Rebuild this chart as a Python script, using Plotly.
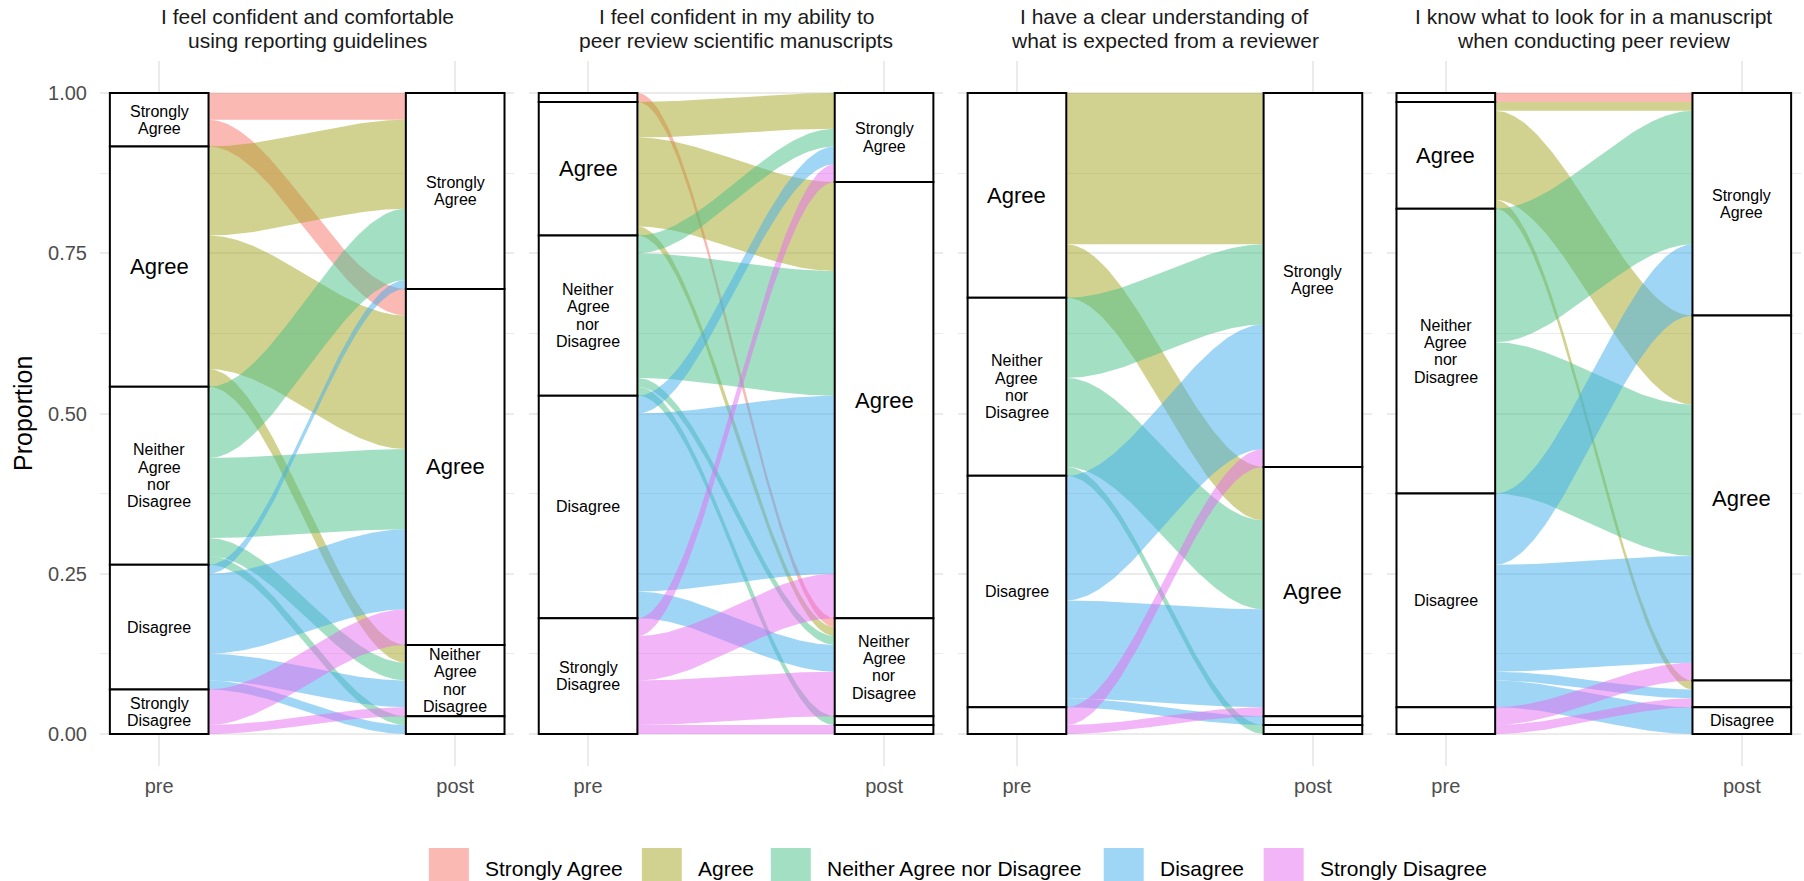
import numpy as np
import plotly.graph_objects as go
from plotly.subplots import make_subplots

# ---------------- data ----------------
categories = ["Strongly Agree", "Agree", "Neither Agree nor Disagree", "Disagree", "Strongly Disagree"]
panel_titles = [
    "I feel confident and comfortable<br>using reporting guidelines",
    "I feel confident in my ability to<br>peer review scientific manuscripts",
    "I have a clear understanding of<br>what is expected from a reviewer",
    "I know what to look for in a manuscript<br>when conducting peer review",
]
time_labels = ["pre", "post"]
y_ticks = [0, 0.25, 0.5, 0.75, 1.0]
y_tick_labels = ["0.00", "0.25", "0.50", "0.75", "1.00"]

# counts of respondents moving from pre response (rows) to post response (columns)
flows_reporting = [[3, 3, 0, 0, 0],
                   [10, 15, 2, 0, 0],
                   [8, 9, 2, 1, 0],
                   [1, 9, 3, 1, 0],
                   [0, 4, 1, 0, 0]]
flows_ability = [[0, 0, 1, 0, 0],
                 [4, 10, 1, 0, 0],
                 [2, 14, 1, 1, 0],
                 [2, 20, 3, 0, 0],
                 [2, 5, 5, 0, 1]]
flows_expected = [[0, 0, 0, 0, 0],
                  [17, 6, 0, 0, 0],
                  [9, 10, 0, 1, 0],
                  [14, 11, 1, 0, 0],
                  [2, 1, 0, 0, 0]]
flows_lookfor = [[1, 0, 0, 0, 0],
                 [1, 10, 1, 0, 0],
                 [15, 17, 0, 0, 0],
                 [8, 12, 1, 3, 0],
                 [0, 2, 1, 0, 0]]
panel_flows = [flows_reporting, flows_ability, flows_expected, flows_lookfor]

colors = ["#F7736A", "#A5A521", "#47BF87", "#41ADEB", "#E56BF0"]

# ---------------- geometry / style ----------------
W, H = 1804, 881
ML, MR, MT, MB = 100, 2.5, 61, 115
PW = W - ML - MR
PH = H - MT - MB
YR = [-0.05, 1.05]
PX_PER_UNIT = PH / (YR[1] - YR[0])
GAP = 14.5
HALF_W = 1 / 6
FONT = "Liberation Sans, Arial, Helvetica, sans-serif"
SMALL_FS, BIG_FS, LINE_H = 16, 22, 17.3


def rgba(h, a):
    h = h.lstrip("#")
    return "rgba(%d,%d,%d,%.2f)" % (int(h[0:2], 16), int(h[2:4], 16), int(h[4:6], 16), a)


def smooth(t):
    return t * t * (3 - 2 * t)


fig = make_subplots(rows=1, cols=4, shared_yaxes=True, horizontal_spacing=GAP / PW)

shapes, annotations = [], []
t = np.linspace(0, 1, 80)
st = smooth(t)

for k, counts in enumerate(panel_flows):
    col = k + 1
    M = np.array(counts, dtype=float)
    n = M.sum()
    P = M / n
    xref = "x" if col == 1 else "x%d" % col
    yref = "y" if col == 1 else "y%d" % col

    # positions of flows at pre side (ordered by pre then post)
    pre_top = np.zeros_like(P)
    cur = 1.0
    for i in range(5):
        for j in range(5):
            pre_top[i, j] = cur
            cur -= P[i, j]
    # positions at post side (ordered by post then pre)
    post_top = np.zeros_like(P)
    cur = 1.0
    for j in range(5):
        for i in range(5):
            post_top[i, j] = cur
            cur -= P[i, j]

    x0, x1 = 1 + HALF_W, 2 - HALF_W
    xs = x0 + (x1 - x0) * t
    for i in range(5):
        for j in range(5):
            if P[i, j] <= 0:
                continue
            ytop = pre_top[i, j] + (post_top[i, j] - pre_top[i, j]) * st
            ybot = ytop - P[i, j]
            fig.add_trace(go.Scatter(
                x=np.concatenate([xs, xs[::-1]]),
                y=np.concatenate([ytop, ybot[::-1]]),
                fill="toself", fillcolor=rgba(colors[i], 0.5),
                line=dict(width=0), mode="lines", hoverinfo="skip",
                showlegend=False), row=1, col=col)

    # strata
    for side, totals in ((1, P.sum(axis=1)), (2, P.sum(axis=0))):
        cur = 1.0
        for c in range(5):
            p = totals[c]
            if p <= 0:
                continue
            top, bot = cur, cur - p
            cur = bot
            shapes.append(dict(type="rect", xref=xref, yref=yref,
                               x0=side - HALF_W, x1=side + HALF_W, y0=bot, y1=top,
                               line=dict(color="black", width=2), fillcolor="white",
                               layer="above"))
            lines = categories[c].split()
            big = categories[c] == "Agree"
            fs = BIG_FS if big else SMALL_FS
            lh = fs * 1.1 if big else LINE_H
            if len(lines) * lh + 1 > p * PX_PER_UNIT:
                continue
            for li, word in enumerate(lines):
                annotations.append(dict(
                    xref=xref, yref=yref, x=side, y=(top + bot) / 2,
                    text=word, showarrow=False, xanchor="center", yanchor="middle",
                    yshift=((len(lines) - 1) / 2 - li) * lh,
                    font=dict(family=FONT, size=fs, color="black")))

    # panel title
    for li, line in enumerate(panel_titles[k].split("<br>")):
        ypx = [17, 40][li]
        annotations.append(dict(
            xref="%s domain" % xref, yref="paper", x=0.5, y=(H - MB - ypx) / PH,
            text=line, showarrow=False, xanchor="center", yanchor="middle",
            font=dict(family=FONT, size=21, color="#1A1A1A")))

    fig.update_xaxes(range=[0.8, 2.2], tickvals=[1, 2], ticktext=time_labels,
                     showgrid=True, gridcolor="#EBEBEB", gridwidth=1.6,
                     zeroline=False, showline=False, ticks="",
                     tickfont=dict(family=FONT, size=20, color="#4D4D4D"),
                     ticklabelstandoff=6, row=1, col=col)
    fig.update_yaxes(range=YR, tickvals=y_ticks, ticktext=y_tick_labels,
                     showgrid=True, gridcolor="#EBEBEB", gridwidth=1.6,
                     minor=dict(tickvals=[0.125, 0.375, 0.625, 0.875], showgrid=True,
                                gridcolor="#EBEBEB", gridwidth=0.8, ticks=""),
                     zeroline=False, showline=False, ticks="",
                     tickfont=dict(family=FONT, size=20, color="#4D4D4D"),
                     row=1, col=col)

fig.update_yaxes(ticklabelstandoff=12, row=1, col=1)

# y axis title
annotations.append(dict(xref="paper", yref="paper", x=(22.5 - ML) / PW, y=0.5,
                        text="Proportion", textangle=-90, showarrow=False,
                        xanchor="center", yanchor="middle",
                        font=dict(family=FONT, size=25, color="black")))

# legend (bottom)
legend_key_left = [429, 642, 771, 1104, 1264]
for c, cat in enumerate(categories):
    kx = legend_key_left[c]
    shapes.append(dict(type="rect", xref="paper", yref="paper",
                       x0=(kx - ML) / PW, x1=(kx + 40 - ML) / PW,
                       y0=(H - MB - 895) / PH, y1=(H - MB - 848) / PH,
                       line=dict(width=0), fillcolor=rgba(colors[c], 0.5)))
    annotations.append(dict(xref="paper", yref="paper", x=(kx + 54 - ML) / PW,
                            y=(H - MB - 869) / PH, text=cat, showarrow=False,
                            xanchor="left", yanchor="middle",
                            font=dict(family=FONT, size=21, color="black")))

fig.update_layout(width=W, height=H, margin=dict(l=ML, r=MR, t=MT, b=MB),
                  plot_bgcolor="white", paper_bgcolor="white",
                  shapes=shapes, annotations=annotations, showlegend=False)

fig.write_html("out.html", config={"displayModeBar": False},
               post_script="document.body.style.margin='0';document.body.style.overflow='hidden';")
